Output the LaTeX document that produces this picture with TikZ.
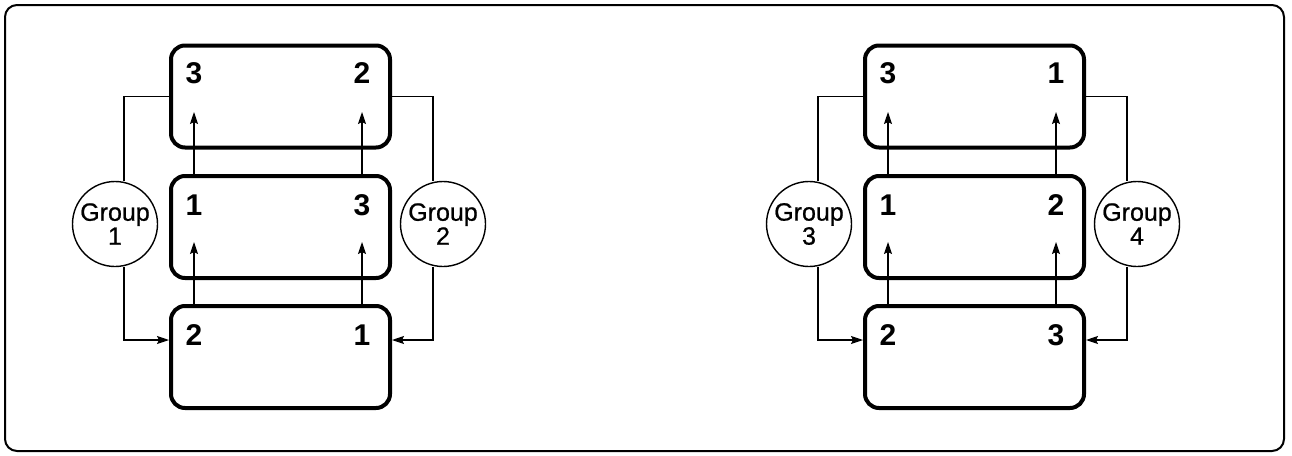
\documentclass[tikz,border=0pt]{standalone}
\usepackage{fontspec}
\setmainfont{Liberation Sans}
\newfontfamily\grpfont{Liberation Sans}[FakeBold=0.8]
\usetikzlibrary{arrows.meta}

\tikzset{
  slot/.style={draw, line width=4pt, rounded corners=14pt,
    minimum width=219pt, minimum height=102pt, inner sep=0pt},
  digit/.style={font=\fontsize{30}{32}\selectfont\bfseries, inner sep=0pt},
  group/.style={draw, circle, line width=1.4pt, minimum size=85pt,
    inner sep=0pt, align=center, font=\fontsize{25}{24}\grpfont},
  link/.style={line width=1.1pt},
  feed/.style={line width=1.1pt, -{Stealth[length=12pt,width=8pt,inset=2pt]}},
}

\begin{document}
\begin{tikzpicture}[x=1pt,y=-1pt]
          \useasboundingbox (0,0) rectangle (1292,455);
          \draw[line width=2pt, rounded corners=12pt] (5,5) rectangle (1284,451);

          % left stack
          \node[slot] (top1) at (280.5,96.5) {};
          \node[slot] (mid1) at (280.5,227) {};
          \node[slot] (bot1) at (280.5,357) {};

          \node[digit] (t1l) at (194,73) {3};
          \node[digit] (t1r) at (362,73) {2};
          \node[digit] (m1l) at (194,205) {1};
          \node[digit] (m1r) at (362,205) {3};
          \node[digit] (b1l) at (194,335) {2};
          \node[digit] (b1r) at (362,335) {1};

          \draw[feed] (bot1.north -| b1l) -- ++(0,-62);
          \draw[feed] (bot1.north -| b1r) -- ++(0,-62);
          \draw[feed] (mid1.north -| m1l) -- ++(0,-62);
          \draw[feed] (mid1.north -| m1r) -- ++(0,-62);

          \node[group] (g1) at (115,224) {Group\\1};
          \node[group] (g2) at (443,224) {Group\\2};

          \draw[link] (top1.west) -| ([xshift=9pt]g1.north);
          \draw[feed] ([xshift=9pt]g1.south) |- ([yshift=17pt]bot1.west);
          \draw[link] (top1.east) -| ([xshift=-10pt]g2.north);
          \draw[feed] ([xshift=-10pt]g2.south) |- ([yshift=17pt]bot1.east);

          % right stack
          \node[slot] (top2) at (974.5,96.5) {};
          \node[slot] (mid2) at (974.5,227) {};
          \node[slot] (bot2) at (974.5,357) {};

          \node[digit] (t2l) at (888,73) {3};
          \node[digit] (t2r) at (1056,73) {1};
          \node[digit] (m2l) at (888,205) {1};
          \node[digit] (m2r) at (1056,205) {2};
          \node[digit] (b2l) at (888,335) {2};
          \node[digit] (b2r) at (1056,335) {3};

          \draw[feed] (bot2.north -| b2l) -- ++(0,-62);
          \draw[feed] (bot2.north -| b2r) -- ++(0,-62);
          \draw[feed] (mid2.north -| m2l) -- ++(0,-62);
          \draw[feed] (mid2.north -| m2r) -- ++(0,-62);

          \node[group] (g3) at (809,224) {Group\\3};
          \node[group] (g4) at (1137,224) {Group\\4};

          \draw[link] (top2.west) -| ([xshift=9pt]g3.north);
          \draw[feed] ([xshift=9pt]g3.south) |- ([yshift=17pt]bot2.west);
          \draw[link] (top2.east) -| ([xshift=-10pt]g4.north);
          \draw[feed] ([xshift=-10pt]g4.south) |- ([yshift=17pt]bot2.east);

          \end{tikzpicture}
\end{document}
